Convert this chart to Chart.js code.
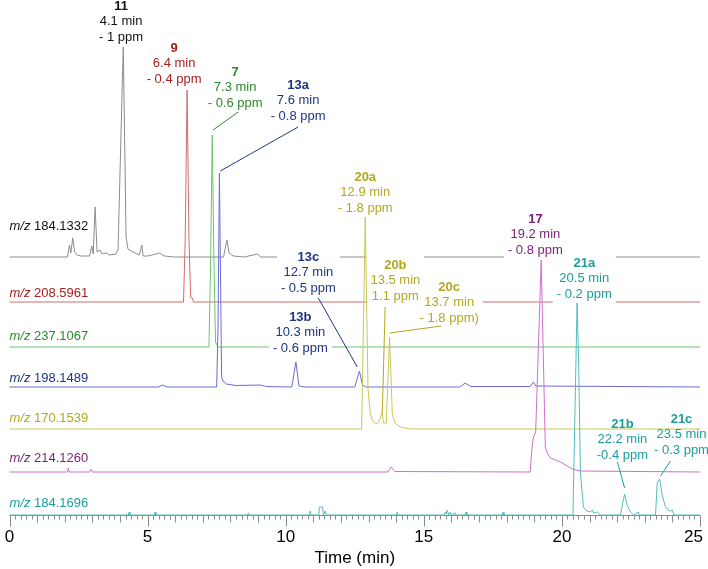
<!DOCTYPE html>
<html>
<head>
<meta charset="utf-8">
<script src="https://cdn.jsdelivr.net/npm/chart.js@4.4.1/dist/chart.umd.min.js"></script>
<style>
  html, body { margin: 0; padding: 0; background: #fff; }
  #wrap { width: 708px; height: 569px; }
</style>
</head>
<body>
<div id="wrap"><canvas id="chromChart" width="708" height="569"></canvas></div>
<script>
// Tick labels of the time axis
const xTickLabels = ['0', '5', '10', '15', '20', '25'];
const xTickValues = [0, 5, 10, 15, 20, 25];

// Trace names (m/z of each extracted ion chromatogram), top to bottom
const traceMz = ['184.1332', '208.5961', '237.1067', '198.1489', '170.1539', '214.1260', '184.1696'];

// Each trace: retention time (min) and intensity above its own baseline
const time1841332 = [0, 2.1, 2.17, 2.22, 2.29, 2.36, 2.45, 2.6, 2.9, 2.98, 3.03, 3.1, 3.17, 3.28, 3.36, 3.52, 3.6, 3.85, 3.93, 4.12, 4.22, 4.29, 4.4, 4.55, 4.7, 4.79, 4.84, 5.0, 5.45, 5.6, 6.0, 7.75, 7.87, 7.95, 8.1, 8.5, 8.97, 9.1, 25];
const int1841332 = [0, 0, 12, 4, 19, 5, 2, 1, 1, 11, 3, 50, 5, 7, 3, 4, 2, 3, 7, 212, 20, 8, 6, 4, 2, 12, 1, 1, 4, 1, 0, 0, 17, 4, 1, 0, 3, 0, 0];

const time2085961 = [0, 6.3, 6.36, 6.43, 6.5, 6.56, 6.62, 6.66, 25];
const int2085961 = [0, 0, 60, 212, 60, 5, 4, 0, 0];

const time2371067 = [0, 7.22, 7.28, 7.34, 7.4, 7.46, 7.55, 25];
const int2371067 = [0, 0, 80, 212, 90, 5, 0, 0];

const time1981489 = [0, 5.4, 5.53, 5.7, 7.5, 7.55, 7.6, 7.68, 7.73, 7.85, 8.2, 9.08, 9.3, 10.22, 10.37, 10.48, 10.7, 12.5, 12.67, 12.78, 12.9, 16.3, 16.5, 16.7, 18.85, 18.97, 19.05, 25];
const int1981489 = [0, 0, 2, 0, 0, 60, 214, 10, 6, 3, 1.5, 2, 0.5, 0, 25, 1, 0, 0, 16, 2, 0, 0, 4, 0.5, 0.5, 5, 1, 0];

const time1701539 = [0, 12.75, 12.88, 12.98, 13.06, 13.15, 13.3, 13.42, 13.49, 13.54, 13.64, 13.76, 13.86, 13.95, 14.15, 14.5, 25];
const int1701539 = [0, 0, 212, 40, 16, 8, 5, 10, 18, 6, 6, 92, 15, 6, 2, 0, 0];

const time2141260 = [0, 2.1, 2.13, 2.16, 2.9, 2.95, 3.0, 13.7, 13.81, 13.95, 18.85, 18.92, 18.97, 19.05, 19.25, 19.4, 19.47, 19.58, 19.95, 20.38, 20.67, 25];
const int2141260 = [0, 0, 4, 0, 0, 2.5, 0, 0, 5, 0.5, 0, 25, 35, 40, 212, 25, 19, 14, 10, 3, 1, 0];

const time1841696 = [0, 4.3, 4.33, 4.36, 5.24, 5.27, 5.3, 8.62, 8.65, 8.68, 10.86, 10.89, 10.92, 11.2, 11.22, 11.34, 11.36, 11.43, 11.47, 14.0, 14.04, 14.07, 15.75, 15.78, 15.81, 15.85, 15.9, 15.96, 16.0, 16.14, 16.17, 16.5, 16.53, 16.56, 17.84, 17.87, 17.9, 20.4, 20.55, 20.61, 20.67, 20.78, 20.9, 21.03, 21.1, 21.15, 21.29, 21.4, 22.12, 22.2, 22.27, 22.36, 22.48, 22.6, 22.77, 22.8, 23.39, 23.45, 23.54, 23.63, 23.75, 23.85, 23.93, 24.0, 24.05, 25];
const int1841696 = [0, 0, 3, 0, 0, 3, 0, 0, 2, 0, 0, 4, 0, 0, 8, 8, 0, 4, 0, 0, 3, 0, 0, 3, 1, 5, 0, 3, 0, 2, 0, 0, 3, 0, 0, 3, 0, 0, 212, 149, 42, 8, 4, 3, 5, 2, 3, 0, 0, 12, 21, 10, 3, 0, 3, 0, 0, 32, 36, 20, 8, 5, 4, 5, 0, 0];

const traceTimes = [time1841332, time2085961, time2371067, time1981489, time1701539, time2141260, time1841696];
const traceInts = [int1841332, int2085961, int2371067, int1981489, int1701539, int2141260, int1841696];

// Peak annotations: compound, retention time, mass error
const peakIds = ['11', '9', '7', '13a', '13c', '13b', '20a', '20b', '20c', '17', '21a', '21b', '21c'];
const peakRt = ['4.1 min', '6.4 min', '7.3 min', '7.6 min', '12.7 min', '10.3 min', '12.9 min', '13.5 min', '13.7 min', '19.2 min', '20.5 min', '22.2 min', '23.5 min'];
const peakPpm = ['- 1 ppm', '- 0.4 ppm', '- 0.6 ppm', '- 0.8 ppm', '- 0.5 ppm', '- 0.6 ppm', '- 1.8 ppm', '1.1 ppm', '- 1.8 ppm)', '- 0.8 ppm', '- 0.2 ppm', '-0.4 ppm', '- 0.3 ppm'];
const peakTrace = [0, 1, 2, 3, 3, 3, 4, 4, 4, 5, 6, 6, 6];

// Layout: stacking offsets, label placement (time, value), leader lines
const traceOffsets = [258, 213, 168, 128, 86, 43, 0];
const traceColors = ['#8c8c8c', '#d46a6a', '#6cc56c', '#6c6cd2', '#c8c85a', '#cf6fcf', '#55bcbc'];
const textColors = ['#111111', '#a8201f', '#2b8a2b', '#1e3585', '#b3a91c', '#7a1d7a', '#1a9e9e'];
const mzLabelPos = [289, 222, 179, 137, 97, 57, 12];
const peakLabelPos = [
    [4.04, 509], [5.96, 467], [8.17, 443], [10.45, 430], [10.82, 258], [10.53, 198],
    [12.88, 338], [13.97, 250], [15.92, 228], [19.04, 296], [20.81, 252], [22.19, 91], [24.33, 96]
];
const peakLabelBox = [true, true, true, true, true, true, true, true, true, true, true, false, false];
const leaderLines = [
    [7.37, 385, 8.28, 403, 2],
    [7.63, 344, 10.45, 388, 3],
    [11.18, 217, 12.59, 148, 3],
    [13.6, 208, 13.5, 104, 4],
    [13.77, 182, 15.63, 189, 4],
    [22.01, 53, 22.27, 27, 6],
    [23.93, 54, 23.57, 39, 6]
];

const FONT = "'Liberation Sans', Arial, sans-serif";
const LINE_GAP = 15.5;

Chart.defaults.font.family = FONT;

// Build one dataset per trace, lifted by its offset
const datasets = traceTimes.map(function (times, i) {
    return {
        label: 'm/z ' + traceMz[i],
        data: times.map(function (t, k) {
            return { x: t, y: traceInts[i][k] + traceOffsets[i] };
        }),
        borderColor: traceColors[i],
        borderWidth: 1,
        pointRadius: 0,
        tension: 0,
        fill: false,
        clip: 4,
        order: traceTimes.length - i
    };
});

function labelLines(i) {
    return [peakIds[i], peakRt[i], peakPpm[i]];
}

function labelFont(k) {
    return (k === 0 ? 'bold ' : '') + '13px ' + FONT;
}

const chromPlugin = {
    id: 'chrom',
    // Axis line, tick marks and tick labels, under the traces
    beforeDatasetsDraw(chart) {
        const ctx = chart.ctx;
        const xs = chart.scales.x;
        const ys = chart.scales.y;
        const y0 = Math.round(ys.getPixelForValue(0)) + 0.5;
        ctx.save();
        ctx.strokeStyle = '#8a8a8a';
        ctx.lineWidth = 1;
        ctx.beginPath();
        ctx.moveTo(xs.getPixelForValue(0), y0);
        ctx.lineTo(xs.getPixelForValue(25), y0);
        for (let i = 0; i <= 125; i++) {
            const px = Math.round(xs.getPixelForValue(i / 5)) + 0.5;
            const len = i % 25 === 0 ? 11 : (i % 5 === 0 ? 7 : 4);
            ctx.moveTo(px, y0);
            ctx.lineTo(px, y0 + len);
        }
        ctx.stroke();

        // tick labels, kept inside the canvas at both ends
        ctx.fillStyle = '#000';
        ctx.font = '17px ' + FONT;
        ctx.textAlign = 'center';
        ctx.textBaseline = 'middle';
        xTickValues.forEach(function (v, i) {
            const w = ctx.measureText(xTickLabels[i]).width;
            let px = xs.getPixelForValue(v);
            px = Math.min(Math.max(px, w / 2 - 0.5), chart.width - w / 2 - 5);
            ctx.fillText(xTickLabels[i], px, y0 + 22);
        });
        ctx.restore();
    },
    // White boxes behind labels, after the upper four traces
    afterDatasetDraw(chart, args) {
        if (args.index !== 3) return;
        const ctx = chart.ctx;
        const xs = chart.scales.x;
        const ys = chart.scales.y;
        ctx.save();
        ctx.fillStyle = '#ffffff';
        peakIds.forEach(function (id, i) {
            if (!peakLabelBox[i]) return;
            const lines = labelLines(i);
            let w = 0;
            lines.forEach(function (s, k) {
                ctx.font = labelFont(k);
                w = Math.max(w, ctx.measureText(s).width);
            });
            const cx = xs.getPixelForValue(peakLabelPos[i][0]);
            const cy = ys.getPixelForValue(peakLabelPos[i][1]);
            ctx.fillRect(cx - w / 2 - 4, cy - 10, w + 8, (lines.length - 1) * LINE_GAP + 20);
        });
        ctx.restore();
    },
    // Leader lines and all texts on top
    afterDatasetsDraw(chart) {
        const ctx = chart.ctx;
        const xs = chart.scales.x;
        const ys = chart.scales.y;
        ctx.save();
        ctx.lineWidth = 1;
        leaderLines.forEach(function (l) {
            ctx.strokeStyle = textColors[l[4]];
            ctx.beginPath();
            ctx.moveTo(xs.getPixelForValue(l[0]), ys.getPixelForValue(l[1]));
            ctx.lineTo(xs.getPixelForValue(l[2]), ys.getPixelForValue(l[3]));
            ctx.stroke();
        });

        ctx.textAlign = 'center';
        ctx.textBaseline = 'middle';
        peakIds.forEach(function (id, i) {
            const cx = xs.getPixelForValue(peakLabelPos[i][0]);
            const cy = ys.getPixelForValue(peakLabelPos[i][1]);
            ctx.fillStyle = textColors[peakTrace[i]];
            labelLines(i).forEach(function (s, k) {
                ctx.font = labelFont(k);
                ctx.fillText(s, cx, cy + k * LINE_GAP);
            });
        });

        ctx.textAlign = 'left';
        traceMz.forEach(function (mz, i) {
            const x = xs.getPixelForValue(0);
            const y = ys.getPixelForValue(mzLabelPos[i]);
            ctx.fillStyle = textColors[i];
            ctx.font = 'italic 13px ' + FONT;
            ctx.fillText('m/z', x, y);
            const w = ctx.measureText('m/z ').width;
            ctx.font = '13px ' + FONT;
            ctx.fillText(mz, x + w, y);
        });
        ctx.restore();
    }
};

const ctx = document.getElementById('chromChart').getContext('2d');

new Chart(ctx, {
    type: 'line',
    data: { datasets: datasets },
    plugins: [chromPlugin],
    options: {
        responsive: false,
        animation: false,
        layout: { padding: { left: 9.5, right: 8, top: 0, bottom: 0 } },
        plugins: {
            legend: { display: false },
            tooltip: { enabled: false }
        },
        scales: {
            x: {
                type: 'linear',
                min: 0,
                max: 25,
                grid: { display: false, drawTicks: false },
                border: { display: false },
                ticks: {
                    display: false,
                    stepSize: 5
                },
                title: {
                    display: true,
                    text: 'Time (min)',
                    color: '#000',
                    font: { size: 17 },
                    padding: { top: 0, bottom: 0 }
                },
                afterFit: function (scale) {
                    scale.height = 54;
                    scale.paddingLeft = 0;
                    scale.paddingRight = 0;
                }
            },
            y: {
                display: false,
                min: 0,
                max: 515
            }
        }
    }
});
</script>
</body>
</html>
